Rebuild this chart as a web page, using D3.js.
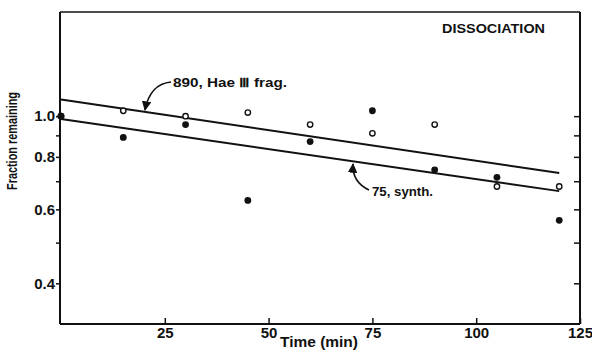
<!DOCTYPE html>
<html>
<head>
<meta charset="utf-8">
<script src="https://cdn.jsdelivr.net/npm/d3@7"></script>
<style>
  body { margin: 0; background: #fff; }
  svg { display: block; }
  text { font-family: "Liberation Sans", Arial, sans-serif; font-weight: bold; fill: #111; }
  .tick text { font-size: 15px; font-family: "Liberation Sans", Arial, sans-serif; font-weight: bold; }
  .label { font-size: 13px; }
  .note { font-size: 13px; }
</style>
</head>
<body>
<svg width="592" height="353"></svg>
<script>
// data
const times = [0, 15, 30, 45, 60, 75, 90, 105, 120];
const frag890 = [1.0, 1.03, 1.0, 1.02, 0.955, 0.91, 0.955, 0.68, 0.68];   // open circles
const synth75 = [1.0, 0.89, 0.955, 0.63, 0.87, 1.03, 0.745, 0.715, 0.565]; // filled circles

// fitted lines (end points)
const fitTimes = [0, 120];
const fit890 = [1.095, 0.732];
const fit75 = [0.984, 0.663];

const xTicks = [25, 50, 75, 100, 125];
const yTicks = [0.4, 0.6, 0.8, 1.0];
const yMinor = [0.4, 0.5, 0.6, 0.7, 0.8, 0.9, 1.0];

const svg = d3.select("svg");
const plotL = 60, plotR = 580, plotT = 12, plotB = 324;

const x = d3.scaleLinear().domain([0, 125]).range([61, plotR]);
const y = d3.scaleLog().domain([0.32, 1.77]).range([plotB, plotT]);

// frame
const frame = svg.append("g").attr("stroke", "#111").attr("stroke-width", 2).attr("fill", "none");
frame.append("line").attr("x1", plotL).attr("x2", plotR).attr("y1", plotB).attr("y2", plotB);
frame.append("line").attr("x1", plotL).attr("x2", plotL).attr("y1", plotT).attr("y2", plotB);
frame.append("line").attr("x1", plotR).attr("x2", plotR).attr("y1", plotT).attr("y2", plotB);
frame.append("line").attr("x1", plotL).attr("x2", plotR).attr("y1", plotT).attr("y2", plotT).attr("stroke-width", 1.5);

// x axis, ticks pointing in
const xAxis = svg.append("g")
  .attr("transform", `translate(0,${plotB})`)
  .call(d3.axisBottom(x).tickValues(xTicks).tickSize(-6).tickPadding(3).tickFormat(d3.format("d")));
xAxis.select(".domain").remove();
xAxis.selectAll(".tick line").attr("stroke", "#111").attr("stroke-width", 1.5);
xAxis.selectAll(".tick text").attr("fill", "#111");

// left axis: minor ticks outward, labels on the main ones
const yAxis = svg.append("g")
  .attr("transform", `translate(${plotL},0)`)
  .call(d3.axisLeft(y).tickValues(yMinor).tickSize(4).tickPadding(1)
    .tickFormat(d => yTicks.includes(d) ? d3.format(".1f")(d) : ""));
yAxis.select(".domain").remove();
yAxis.selectAll(".tick line").attr("stroke", "#111").attr("stroke-width", 1.5);
yAxis.selectAll(".tick text").attr("fill", "#111");

// right axis ticks pointing in
const yRight = svg.append("g")
  .attr("transform", `translate(${plotR},0)`)
  .call(d3.axisLeft(y).tickValues(yMinor).tickSize(-6).tickFormat(""));
yRight.select(".domain").remove();
yRight.selectAll(".tick line").attr("x2", -6).attr("stroke", "#111").attr("stroke-width", 1.5);

// fitted lines
const line = d3.line().x(d => x(d[0])).y(d => y(d[1]));
[fit890, fit75].forEach(fit => {
  svg.append("path")
    .datum(fitTimes.map((t, i) => [t, fit[i]]))
    .attr("d", line)
    .attr("fill", "none")
    .attr("stroke", "#111")
    .attr("stroke-width", 2);
});

// points
svg.append("g").selectAll("circle")
  .data(times.map((t, i) => [t, frag890[i]]))
  .join("circle")
  .attr("cx", d => x(d[0])).attr("cy", d => y(d[1]))
  .attr("r", 2.7).attr("fill", "#fff").attr("stroke", "#111").attr("stroke-width", 1.4);

svg.append("g").selectAll("circle")
  .data(times.map((t, i) => [t, synth75[i]]))
  .join("circle")
  .attr("cx", d => x(d[0])).attr("cy", d => y(d[1]))
  .attr("r", 3.4).attr("fill", "#111");

// annotations
svg.append("defs").append("marker")
  .attr("id", "arrow").attr("viewBox", "0 0 10 10")
  .attr("refX", 9).attr("refY", 5)
  .attr("markerWidth", 6).attr("markerHeight", 6)
  .attr("orient", "auto")
  .append("path").attr("d", "M0,0L10,5L0,10z").attr("fill", "#111");

svg.append("path")
  .attr("d", "M171,82 Q150,84 145,110")
  .attr("fill", "none").attr("stroke", "#111").attr("stroke-width", 1.6)
  .attr("marker-end", "url(#arrow)");
svg.append("text").attr("class", "note").attr("x", 173).attr("y", 87)
  .attr("textLength", 114).attr("lengthAdjust", "spacingAndGlyphs")
  .text("890, Hae Ⅲ frag.");

svg.append("path")
  .attr("d", "M369,190 Q352,182 353,164")
  .attr("fill", "none").attr("stroke", "#111").attr("stroke-width", 1.6)
  .attr("marker-end", "url(#arrow)");
svg.append("text").attr("class", "note").attr("x", 372).attr("y", 196)
  .attr("textLength", 61).attr("lengthAdjust", "spacingAndGlyphs")
  .text("75, synth.");

svg.append("text").attr("class", "label")
  .attr("x", 442).attr("y", 33)
  .attr("textLength", 103).attr("lengthAdjust", "spacingAndGlyphs")
  .style("font-size", "13.5px")
  .text("DISSOCIATION");

svg.append("text").attr("class", "label")
  .attr("transform", "translate(17,190) rotate(-90)")
  .attr("textLength", 98).attr("lengthAdjust", "spacingAndGlyphs")
  .style("font-size", "15px")
  .text("Fraction remaining");

svg.append("text").attr("class", "label")
  .attr("x", 280).attr("y", 347)
  .attr("textLength", 78).attr("lengthAdjust", "spacingAndGlyphs")
  .style("font-size", "15px")
  .text("Time (min)");
</script>
</body>
</html>
